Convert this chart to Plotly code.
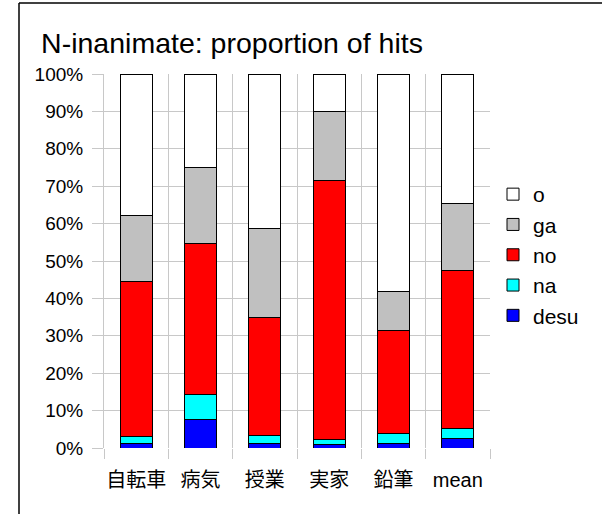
import plotly.graph_objects as go

categories = ["自転車", "病気", "授業", "実家", "鉛筆", "mean"]
series_names = ["desu", "na", "no", "ga", "o"]
desu = [1.25, 7.7, 1.25, 0.9, 1.3, 2.5]
na = [1.85, 6.6, 2.15, 1.3, 2.6, 2.8]
no = [41.3, 40.4, 31.6, 69.2, 27.4, 42.1]
ga = [17.9, 20.3, 23.6, 18.5, 10.6, 18.1]
o = [37.7, 25.0, 41.4, 10.1, 58.1, 34.5]
colors = ["#0000ff", "#00ffff", "#ff0000", "#c0c0c0", "#ffffff"]
y_ticks = [0, 10, 20, 30, 40, 50, 60, 70, 80, 90, 100]
y_tick_labels = [f"{v}%" for v in y_ticks]

values = [desu, na, no, ga, o]

W, H = 602, 514
L, R, T, B = 104, 112, 74, 66
pw, ph = W - L - R, H - T - B

fig = go.Figure()
for name, vals, col in zip(series_names, values, colors):
    fig.add_trace(go.Bar(
        x=categories, y=vals, name=name,
        marker=dict(color=col, line=dict(color="#000000", width=1)),
        width=0.5,
    ))

def px_x(p):
    return (p - L) / pw

def px_y(p):
    return (H - B - p) / ph

fig.update_layout(
    barmode="stack",
    width=W, height=H,
    margin=dict(l=L, r=R, t=T, b=B, autoexpand=False),
    paper_bgcolor="white", plot_bgcolor="white",
    font=dict(family="Liberation Sans, Arial, Noto Sans CJK JP, sans-serif", color="#000000"),
    title=dict(text="N-inanimate: proportion of hits", xref="container", x=232 / W, xanchor="center",
               yref="container", y=1 - 43 / H, yanchor="middle", font=dict(size=28.5)),
    xaxis=dict(
        type="category", tickson="boundaries", ticks="outside", ticklen=10,
        tickcolor="#c8c8c8", showgrid=True, gridcolor="#c8c8c8", gridwidth=1,
        showline=False, tickangle=0, ticklabelstandoff=18,
        tickfont=dict(size=20, family="Liberation Sans, Noto Sans CJK JP, sans-serif"),
        range=[-0.5, 5.5],
    ),
    yaxis=dict(
        range=[0, 100], tickvals=y_ticks, ticktext=y_tick_labels,
        ticks="outside", ticklen=11, tickcolor="#c8c8c8",
        showgrid=True, gridcolor="#c8c8c8", gridwidth=1,
        showline=True, linecolor="#c8c8c8", zeroline=False,
        ticklabelstandoff=5,
        tickfont=dict(size=19),
    ),
    legend=dict(
        traceorder="reversed", x=px_x(493), xanchor="left",
        y=px_y(174), yanchor="top", font=dict(size=21),
        bgcolor="rgba(0,0,0,0)", tracegroupgap=0,
    ),
    bargap=0.5,
    shapes=[
        dict(type="line", xref="paper", yref="paper",
             x0=px_x(19), y0=px_y(3), x1=px_x(610), y1=px_y(3),
             line=dict(color="#000000", width=1.5)),
        dict(type="line", xref="paper", yref="paper",
             x0=px_x(19), y0=px_y(3), x1=px_x(19), y1=px_y(520),
             line=dict(color="#000000", width=1.5)),
    ],
)

fig.write_html("out.html", config={"displayModeBar": False},
               post_script="document.body.style.margin='0';")
